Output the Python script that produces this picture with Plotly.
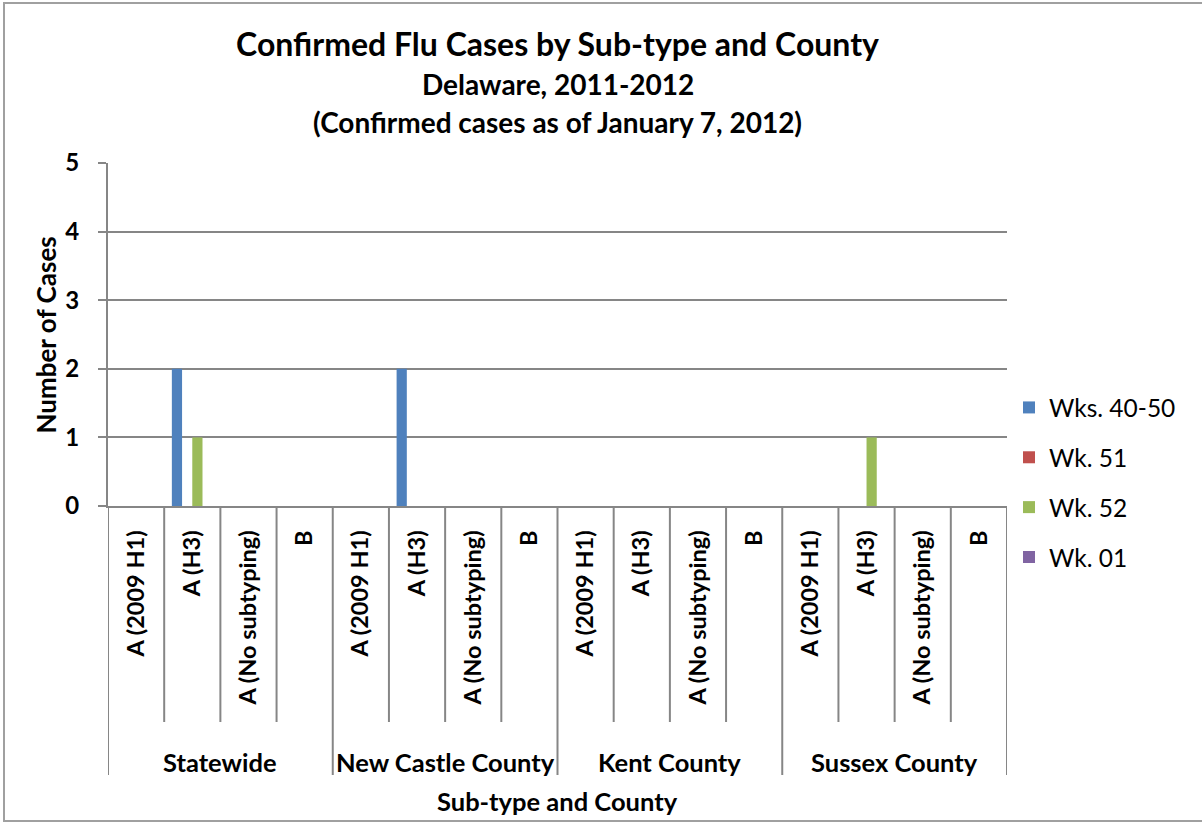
import plotly.graph_objects as go

counties = ["Statewide", "New Castle County", "Kent County", "Sussex County"]
subtypes = ["A (2009 H1)", "A (H3)", "A (No subtyping)", "B"]
series_names = ["Wks. 40-50", "Wk. 51", "Wk. 52", "Wk. 01"]
series_colors = ["#4F81BD", "#C0504D", "#9BBB59", "#8064A2"]

# one value per county/sub-type pair, in county order
wks_40_50 = [0, 2, 0, 0, 0, 2, 0, 0, 0, 0, 0, 0, 0, 0, 0, 0]
wk_51 = [0, 0, 0, 0, 0, 0, 0, 0, 0, 0, 0, 0, 0, 0, 0, 0]
wk_52 = [0, 1, 0, 0, 0, 0, 0, 0, 0, 0, 0, 0, 0, 1, 0, 0]
wk_01 = [0, 0, 0, 0, 0, 0, 0, 0, 0, 0, 0, 0, 0, 0, 0, 0]

FONT = "Lato"
GRID = "#868686"

# pixel geometry of the plot area
L, R, T, B = 108, 1007, 163, 506
W, H = R - L, B - T

def py(px):
    return (B - px) / H

def pxx(px):
    return (px - L) / W

positions = list(range(len(counties) * len(subtypes)))
tick_text = [s for c in counties for s in subtypes]

fig = go.Figure()
for i, (name, vals) in enumerate(zip(series_names, [wks_40_50, wk_51, wk_52, wk_01])):
    fig.add_trace(go.Bar(
        x=positions, y=vals, name=name,
        marker=dict(color=series_colors[i], line=dict(width=0)),
        legendgroup=name,
    ))

fig.update_layout(
    width=1202, height=822, autosize=False,
    margin=dict(l=L, r=1202 - R, t=T, b=822 - B),
    paper_bgcolor="white", plot_bgcolor="white",
    barmode="group", bargap=1.5 / 5.5, bargroupgap=0,
    font=dict(family=FONT, color="black"),
    legend=dict(
        x=pxx(1009), y=py(385), xanchor="left", yanchor="top",
        font=dict(size=24.5, family=FONT), traceorder="grouped",
        tracegroupgap=15, bgcolor="rgba(0,0,0,0)",
    ),
    title=dict(
        text="Confirmed Flu Cases by Sub-type and County",
        x=0.5, xanchor="center", xref="paper", y=1 - 45 / 822, yanchor="middle",
        font=dict(size=32, family=FONT, weight="bold"),
    ),
    showlegend=True,
)

fig.update_xaxes(
    range=[-0.5, 15.5], tickvals=positions, ticktext=tick_text,
    tickangle=-90, ticks="", ticklabelstandoff=13,
    tickfont=dict(size=23.5, family=FONT, weight="bold"),
    showgrid=False, showline=True, linecolor=GRID, linewidth=2, zeroline=False,
)
fig.update_yaxes(
    range=[0, 5], dtick=1, showgrid=True, gridcolor=GRID, gridwidth=2,
    showline=True, linecolor=GRID, linewidth=2, ticks="outside", ticklen=8,
    tickcolor=GRID, tickwidth=2, ticklabelstandoff=14, zeroline=False,
    tickfont=dict(size=24, family=FONT, weight="bold"),
)

shapes = []
# category separators below the axis
for i in range(1, 16):
    bottom = 775 if i % 4 == 0 else 722
    shapes.append(dict(type="line", xref="x", yref="paper", x0=i - 0.5, x1=i - 0.5,
                       y0=0, y1=py(bottom), line=dict(color=GRID, width=2)))
for edge in (-0.5, 15.5):
    shapes.append(dict(type="line", xref="x", yref="paper", x0=edge, x1=edge,
                       y0=0, y1=py(775), line=dict(color=GRID, width=2)))
# chart border
shapes.append(dict(type="rect", xref="paper", yref="paper",
                   x0=pxx(4), x1=pxx(1210), y0=py(821), y1=py(3),
                   line=dict(color="#A0A0A0", width=2), fillcolor="rgba(0,0,0,0)"))
fig.update_layout(shapes=shapes)

annotations = [
    dict(text="Delaware, 2011-2012", x=0.5, y=py(84), size=28),
    dict(text="(Confirmed cases as of January 7, 2012)", x=0.5, y=py(122), size=28),
    dict(text="Sub-type and County", x=0.5, y=py(801), size=25.5),
]
for i, c in enumerate(counties):
    annotations.append(dict(text=c, x=(4 * i + 2) / 16, y=py(762), size=25.5))
fig.update_layout(annotations=[
    dict(text=a["text"], xref="paper", yref="paper", x=a["x"], y=a["y"],
         xanchor="center", yanchor="middle", showarrow=False,
         font=dict(size=a["size"], family=FONT, weight="bold", color="black"))
    for a in annotations
])
fig.add_annotation(text="Number of Cases", xref="paper", yref="paper",
                   x=pxx(45), y=0.5, xanchor="center", yanchor="middle",
                   textangle=-90, showarrow=False,
                   font=dict(size=26, family=FONT, weight="bold", color="black"))

# drop the page's default body margin so the chart sits at the window's corner
fig.write_html("out.html", config={"displayModeBar": False},
               post_script="document.body.style.margin='0';")
